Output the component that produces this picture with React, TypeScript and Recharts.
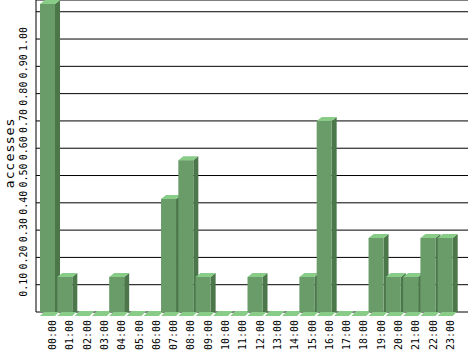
import { BarChart, Bar, XAxis, YAxis, CartesianGrid } from 'recharts'

// hours of the day and accesses per hour
const hours = [
  '00:00', '01:00', '02:00', '03:00', '04:00', '05:00', '06:00', '07:00',
  '08:00', '09:00', '10:00', '11:00', '12:00', '13:00', '14:00', '15:00',
  '16:00', '17:00', '18:00', '19:00', '20:00', '21:00', '22:00', '23:00',
]
const accesses = [
  1.143, 0.143, 0, 0, 0.143, 0, 0, 0.429,
  0.571, 0.143, 0, 0, 0.143, 0, 0, 0.143,
  0.714, 0, 0, 0.286, 0.143, 0.143, 0.286, 0.286,
]
const yTicks = [0, 0.1, 0.2, 0.3, 0.4, 0.5, 0.6, 0.7, 0.8, 0.9, 1.0, 1.1]
const yLabels = ['', '0.10', '0.20', '0.30', '0.40', '0.50', '0.60', '0.70', '0.80', '0.90', '1.00', '']

const data = hours.map((h, i) => ({ hour: h, value: accesses[i] }))

const DEPTH = 5
const DROP = 4

// 3d box: front face dropped a few px, top and side faces behind it
function Box3D(props: any) {
  const { x, y, width, height } = props
  const w = width
  const base = y + height
  const fy = y + DROP
  const d = DEPTH
  return (
    <g>
      <polygon
        points={`${x + w},${fy} ${x + w + d},${y} ${x + w + d},${base} ${x + w},${base + DROP}`}
        fill="#4b774b"
      />
      <rect x={x} y={fy} width={w} height={Math.max(height, 0)} fill="#6a9c6a" />
      <polygon
        points={`${x},${fy} ${x + d},${y} ${x + w + d},${y} ${x + w},${fy}`}
        fill="#88cc88"
      />
    </g>
  )
}

// flat lid at the baseline, so that empty hours still show a slab
function FloorLid(props: any) {
  const { x, y, width, height } = props
  const base = y + height
  const d = DEPTH
  return (
    <polygon
      points={`${x},${base + DROP} ${x + d},${base - 1} ${x + width + d},${base - 1} ${x + width},${base + DROP}`}
      fill="#88cc88"
      stroke="none"
    />
  )
}

function YTick(props: any) {
  const { y, index } = props
  const label = yLabels[index] ?? ''
  if (!label) return null
  return (
    <text
      transform={`translate(23,${y}) rotate(-90)`}
      textAnchor="middle"
      dominantBaseline="central"
      fontFamily="DejaVu Sans Mono"
      fontSize={10}
      fill="#000"
    >
      {label}
    </text>
  )
}

function XTick(props: any) {
  const { x, payload } = props
  return (
    <text
      transform={`translate(${x + 5},${320}) rotate(-90)`}
      textAnchor="end"
      dominantBaseline="central"
      fontFamily="DejaVu Sans Mono"
      fontSize={10}
      fill="#000"
    >
      {payload.value}
    </text>
  )
}

function AxisTitle() {
  return (
    <text
      transform="translate(9,153) rotate(-90)"
      textAnchor="middle"
      dominantBaseline="central"
      fontFamily="DejaVu Sans"
      fontSize={13}
      letterSpacing={1.5}
      fill="#000"
    >
      accesses
    </text>
  )
}

export default function App() {
  return (
    <div style={{ position: 'absolute', left: 0, top: 0, width: 468, height: 351, background: '#fff' }}>
      <BarChart
        width={468}
        height={351}
        data={data}
        margin={{ top: 0, right: 0, bottom: 0, left: 0 }}
        barCategoryGap={0}
      >
        <CartesianGrid vertical={false} stroke="#000" strokeWidth={1} />
        <XAxis
          dataKey="hour"
          height={39}
          axisLine={false}
          tickLine={false}
          interval={0}
          padding={{ left: 3, right: 14 }}
          tick={<XTick />}
        />
        <YAxis
          width={36}
          domain={[0, 1.143]}
          ticks={yTicks}
          axisLine={{ stroke: '#000' }}
          tickLine={false}
          tick={<YTick />}
          label={<AxisTitle />}
          allowDataOverflow
        />
        <Bar
          dataKey="value"
          barSize={15}
          shape={<Box3D />}
          background={<FloorLid />}
          isAnimationActive={false}
        />
      </BarChart>
    </div>
  )
}
